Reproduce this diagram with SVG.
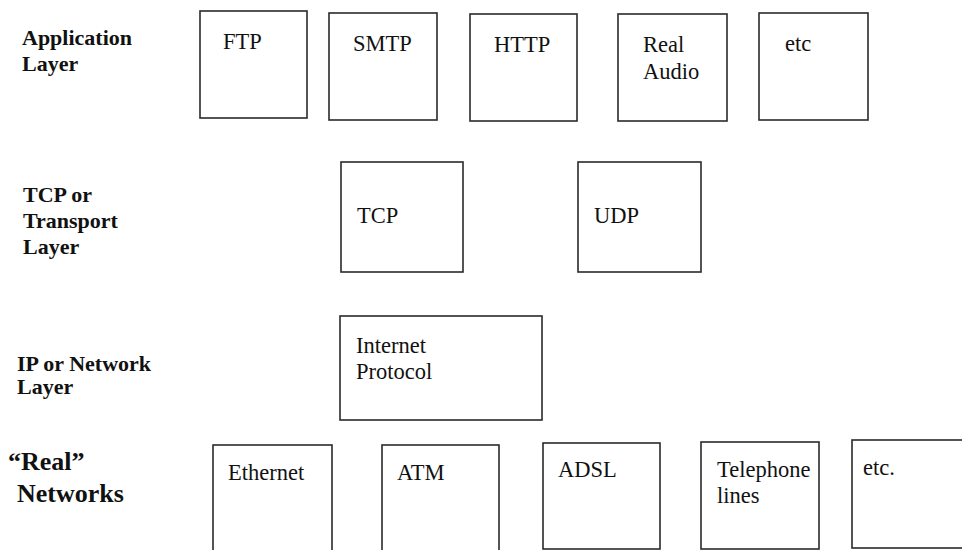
<svg xmlns="http://www.w3.org/2000/svg" width="962" height="550" viewBox="0 0 962 550">
<style>
.box{fill:#fff;stroke:#2a2a2a;stroke-width:1.6}
.t{font-family:"Liberation Serif","Times New Roman",serif;font-size:22.5px;fill:#111}
.lbl{font-family:"Liberation Serif","Times New Roman",serif;font-size:22px;font-weight:bold;fill:#111}
.big{font-family:"Liberation Serif","Times New Roman",serif;font-size:26px;font-weight:bold;fill:#111}
</style>
<rect width="962" height="550" fill="#fff"/>
<g id="labels">
<text class="lbl" x="22" y="45">Application</text>
<text class="lbl" x="22" y="71">Layer</text>
<text class="lbl" x="23" y="202">TCP or</text>
<text class="lbl" x="23" y="228">Transport</text>
<text class="lbl" x="23" y="254">Layer</text>
<text class="lbl" x="17" y="371">IP or Network</text>
<text class="lbl" x="17" y="394">Layer</text>
<text class="big" x="8" y="470">“Real”</text>
<text class="big" x="17" y="502">Networks</text>
</g>
<g id="ftp"><rect class="box" x="200" y="11" width="107" height="107"/><text class="t" x="223" y="49">FTP</text></g>
<g id="smtp"><rect class="box" x="329" y="13" width="108" height="107"/><text class="t" x="353" y="51">SMTP</text></g>
<g id="http"><rect class="box" x="470" y="14" width="107" height="107"/><text class="t" x="494" y="52">HTTP</text></g>
<g id="realaudio"><rect class="box" x="618" y="14" width="109" height="107"/><text class="t" x="643" y="52">Real</text><text class="t" x="643" y="79">Audio</text></g>
<g id="etc-app"><rect class="box" x="759" y="13" width="109" height="107"/><text class="t" x="785" y="51">etc</text></g>
<g id="tcp"><rect class="box" x="341" y="162" width="122" height="110"/><text class="t" x="357" y="223">TCP</text></g>
<g id="udp"><rect class="box" x="578" y="162" width="123" height="110"/><text class="t" x="594" y="223">UDP</text></g>
<g id="ip"><rect class="box" x="340" y="316" width="202" height="104"/><text class="t" x="356" y="353">Internet</text><text class="t" x="356" y="379">Protocol</text></g>
<g id="ethernet"><rect class="box" x="213" y="445" width="119" height="110"/><text class="t" x="228" y="480">Ethernet</text></g>
<g id="atm"><rect class="box" x="382" y="445" width="117" height="110"/><text class="t" x="397" y="480">ATM</text></g>
<g id="adsl"><rect class="box" x="543" y="443" width="117" height="106"/><text class="t" x="558" y="477">ADSL</text></g>
<g id="telephone"><rect class="box" x="701" y="442" width="118" height="107"/><text class="t" x="717" y="477">Telephone</text><text class="t" x="717" y="503">lines</text></g>
<g id="etc-net"><rect class="box" x="852" y="440" width="130" height="108"/><text class="t" x="863" y="475">etc.</text></g>
<g id="connectors"></g>
</svg>
